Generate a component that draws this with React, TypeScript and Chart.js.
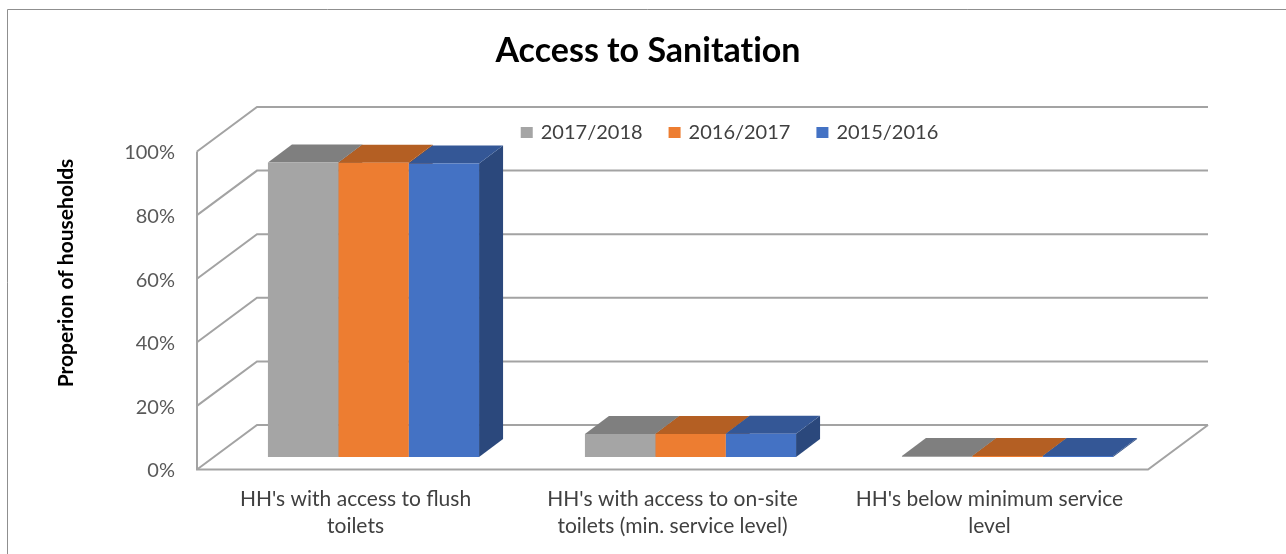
import React, { useEffect, useRef } from "react";
import { Chart, registerables } from "chart.js";

Chart.register(...registerables);

// ---- data ----
const chartTitle = "Access to Sanitation";
const yAxisTitle = "Properion of households";
const categories = [
  ["HH's with access to flush", "toilets"],
  ["HH's with access to on-site", "toilets (min. service level)"],
  ["HH's below minimum service", "level"],
];
const seriesLabels = ["2017/2018", "2016/2017", "2015/2016"];
const values2017_2018 = [92.6, 7.2, 0.3];
const values2016_2017 = [92.5, 7.2, 0.3];
const values2015_2016 = [92.3, 7.3, 0.3];
const yTickValues = [0, 20, 40, 60, 80, 100];

// ---- styles ----
const FONT = "Lato, 'Open Sans', sans-serif";
const FACE = ["#A5A5A5", "#ED7D31", "#4472C4"];
const TOP = ["#7F7F7F", "#B45F23", "#345796"];
const SIDE = ["#666666", "#8F4B1C", "#2B487C"];
const GRID = "#a3a3a3";
const FRONT = { dx: -18, dy: 12.5 };
const BACK = { dx: 42, dy: -32 };
const BAR_D = { dx: 24, dy: -18 };

const threeD = {
  id: "threeD",
  beforeDraw(chart: any) {
    const { ctx, chartArea, scales } = chart;
    const ys = scales.y;
    ctx.save();
    ctx.fillStyle = "#ffffff";
    ctx.fillRect(0, 0, chart.width, chart.height);

    // outer border
    ctx.strokeStyle = "#8f8f8f";
    ctx.lineWidth = 1;
    ctx.beginPath();
    ctx.moveTo(7.5, chart.height + 5);
    ctx.lineTo(7.5, 9.5);
    ctx.lineTo(chart.width + 5, 9.5);
    ctx.stroke();

    // title
    ctx.save();
    ctx.fillStyle = "#000000";
    ctx.font = `bold 34px ${FONT}`;
    (ctx as any).textRendering = "optimizeSpeed";
    ctx.textAlign = "center";
    ctx.textBaseline = "alphabetic";
    ctx.fillText(chartTitle, 648, 62);
    ctx.restore();

    // y axis title
    ctx.save();
    ctx.translate(73, 273);
    ctx.rotate(-Math.PI / 2);
    ctx.font = `bold 21px ${FONT}`;
    ctx.fillStyle = "#000000";
    ctx.textAlign = "center";
    ctx.textBaseline = "alphabetic";
    ctx.fillText(yAxisTitle, 0, 0);
    ctx.restore();

    // walls & gridlines
    const L = chartArea.left;
    const R = chartArea.right;
    ctx.strokeStyle = GRID;
    ctx.lineWidth = 2;
    ctx.lineJoin = "miter";
    yTickValues.forEach((v) => {
      const y = ys.getPixelForValue(v);
      ctx.beginPath();
      ctx.moveTo(L + FRONT.dx, y + FRONT.dy);
      ctx.lineTo(L + BACK.dx, y + BACK.dy);
      ctx.lineTo(R + BACK.dx, y + BACK.dy);
      ctx.stroke();
    });
    const y0 = ys.getPixelForValue(ys.min);
    const yM = ys.getPixelForValue(ys.max);
    ctx.beginPath();
    ctx.moveTo(L + FRONT.dx, yM + FRONT.dy);
    ctx.lineTo(L + FRONT.dx, y0 + FRONT.dy);
    ctx.lineTo(R + FRONT.dx, y0 + FRONT.dy);
    ctx.lineTo(R + BACK.dx, y0 + BACK.dy);
    ctx.stroke();

    // legend
    ctx.font = `20px ${FONT}`;
    ctx.textAlign = "left";
    ctx.textBaseline = "alphabetic";
    const sq = 12, gap = 8, spacing = 26;
    const widths = chart.data.datasets.map((d: any) => ctx.measureText(d.label).width);
    const total = widths.reduce((a: number, w: number) => a + sq + gap + w, 0) + spacing * (widths.length - 1);
    let x = 729.5 - total / 2;
    chart.data.datasets.forEach((d: any, i: number) => {
      ctx.fillStyle = FACE[i];
      ctx.fillRect(x, 127, sq, 11);
      ctx.fillStyle = "#404040";
      ctx.fillText(d.label, x + sq + gap, 139);
      x += sq + gap + widths[i] + spacing;
    });
    ctx.restore();
  },
  beforeDatasetsDraw(chart: any) {
    const { ctx } = chart;
    const n = chart.data.labels.length;
    ctx.save();
    for (let i = 0; i < n; i++) {
      chart.data.datasets.forEach((_ds: any, d: number) => {
        const bar: any = chart.getDatasetMeta(d).data[i];
        const { x, y, base, width } = bar.getProps(["x", "y", "base", "width"], true);
        const l = x - width / 2;
        const r = x + width / 2;
        ctx.fillStyle = SIDE[d];
        ctx.beginPath();
        ctx.moveTo(r, y);
        ctx.lineTo(r + BAR_D.dx, y + BAR_D.dy);
        ctx.lineTo(r + BAR_D.dx, base + BAR_D.dy);
        ctx.lineTo(r, base);
        ctx.closePath();
        ctx.fill();
        ctx.fillStyle = TOP[d];
        ctx.beginPath();
        ctx.moveTo(l, y);
        ctx.lineTo(r, y);
        ctx.lineTo(r + BAR_D.dx, y + BAR_D.dy);
        ctx.lineTo(l + BAR_D.dx, y + BAR_D.dy);
        ctx.closePath();
        ctx.fill();
      });
    }
    ctx.restore();
  },
};

export default function App() {
  const ref = useRef<HTMLCanvasElement>(null);
  useEffect(() => {
    if (!ref.current) return;
    const seriesValues = [values2017_2018, values2016_2017, values2015_2016];
    const chart = new Chart(ref.current, {
      type: "bar",
      data: {
        labels: categories,
        datasets: seriesLabels.map((label, i) => ({
          label,
          data: seriesValues[i],
          backgroundColor: FACE[i],
          borderWidth: 0,
          categoryPercentage: 0.666,
          barPercentage: 1.0,
        })),
      },
      options: {
        responsive: false,
        animation: false,
        devicePixelRatio: 1,
        layout: { padding: { top: 139, right: 120, bottom: 0, left: 0 } },
        plugins: {
          legend: { display: false },
          title: { display: false },
          tooltip: { enabled: false },
        },
        scales: {
          x: {
            grid: { display: false, drawTicks: false },
            border: { display: false },
            ticks: {
              color: "#404040",
              font: { family: FONT, size: 21, lineHeight: 1.27 },
              padding: 29,
              labelOffset: FRONT.dx,
              maxRotation: 0,
              minRotation: 0,
              autoSkip: false,
            },
            afterFit: (s: any) => {
              s.height = 97;
            },
          },
          y: {
            min: 0,
            max: 100,
            grid: { display: false, drawTicks: false },
            border: { display: false },
            ticks: {
              stepSize: 20,
              color: "#595959",
              font: { family: FONT, size: 20 },
              padding: 40,
              labelOffset: 14,
              callback: (v: any) => v + "%",
            },
            afterFit: (s: any) => {
              s.width = 215;
            },
          },
        },
      },
      plugins: [threeD],
    } as any);
    return () => chart.destroy();
  }, []);
  return (
    <div style={{ position: "fixed", left: 0, top: 0, width: 1286, height: 554, background: "#fff" }}>
      <canvas ref={ref} width={1286} height={554} style={{ display: "block" }} />
    </div>
  );
}
